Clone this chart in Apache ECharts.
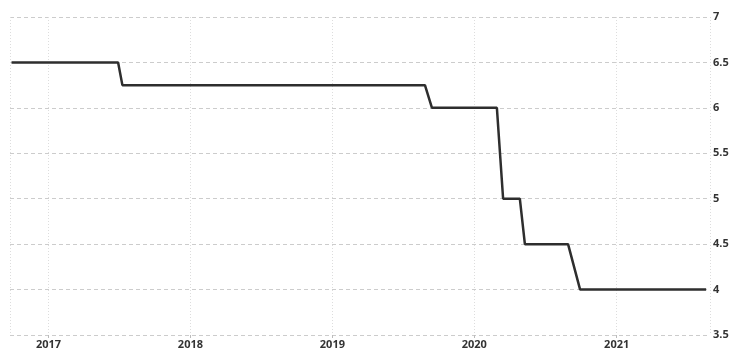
<!DOCTYPE html>
<html>
<head>
<meta charset="utf-8">
<script src="https://cdn.jsdelivr.net/npm/echarts@6/dist/echarts.min.js"></script>
<style>html,body{margin:0;padding:0;background:#fff}#c{width:734px;height:353px}</style>
</head>
<body>
<div id="c"></div>
<script>
const dates = ['2016-09-28','2017-06-29','2017-07-10','2019-08-27','2019-09-14','2020-02-28','2020-03-15','2020-04-27','2020-05-10','2020-08-29','2020-09-29','2021-08-19'];
const values = [6.5,6.5,6.25,6.25,6.0,6.0,5.0,5.0,4.5,4.5,4.0,4.0];
const yTicks = [3.5,4,4.5,5,5.5,6,6.5,7];

const chart = echarts.init(document.getElementById('c'));
chart.setOption({
  animation:false,
  grid:{left:10,right:24,top:17,bottom:18},
  xAxis:{
    type:'time',
    min:'2016-09-24', max:'2021-08-29',
    splitNumber:5,
    axisLine:{show:false},
    axisTick:{show:true,length:3,lineStyle:{color:'#bbb'}},
    splitLine:{show:true,lineStyle:{color:'#ddd',type:[1,2]}},
    axisLabel:{
      color:'#333',fontSize:11,fontWeight:'bold',fontFamily:'Open Sans',margin:4,
      formatter:'{yyyy}'
    }
  },
  yAxis:{
    type:'value',position:'right',min:3.5,max:7,interval:0.5,
    axisLine:{show:false},axisTick:{show:false},
    splitLine:{show:true,lineStyle:{color:'#ccc',type:[4,3]}},
    axisLabel:{color:'#333',fontSize:11,fontWeight:'bold',fontFamily:'Open Sans',margin:3,
      formatter:function(v){return yTicks.indexOf(v)>=0 ? String(v) : '';}}
  },
  series:[{
    type:'line',
    data:dates.map((d,i)=>[d,values[i]]),
    symbol:'none',
    lineStyle:{color:'#2e2e2e',width:2.5},
    itemStyle:{color:'#2e2e2e'}
  }]
});
</script>
</body>
</html>
